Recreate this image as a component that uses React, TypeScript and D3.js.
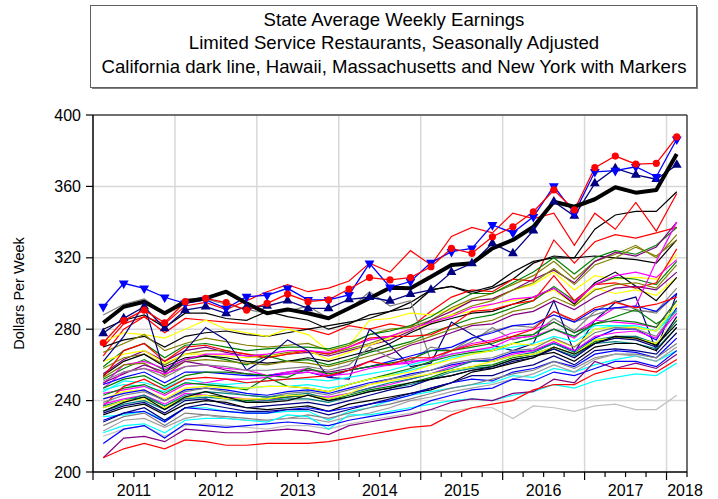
import React from "react";
import * as d3 from "d3";

const quarters = d3.range(29); // 2011Q1 .. 2018Q1
const yearLabels = ["2011", "2012", "2013", "2014", "2015", "2016", "2017", "2018"];
const yTicks = [200, 240, 280, 320, 360, 400];
const titleLines = [
  "State Average Weekly Earnings",
  "Limited Service Restaurants, Seasonally Adjusted",
  "California dark line, Hawaii, Massachusetts and New York with Markers",
];

// Highlighted series
const california = [283.6, 292.6, 295.4, 288.9, 295.4, 297.3, 301, 294.5, 288.9, 291.1, 288.9, 286.1, 291.7, 297.3, 303.2, 302.9, 309.4, 316, 316.9, 325.3, 330, 337.4, 351.4, 348.6, 352.8, 359.5, 356.5, 358, 378.1];
const hawaii = [272.4, 284.8, 290.7, 283.6, 295.4, 297.3, 294.9, 290.7, 294.5, 299.7, 295.4, 296.4, 302.5, 308.9, 307.6, 308.9, 315, 325.3, 322.5, 331.8, 337.4, 345.8, 358, 346.8, 370.5, 377, 372.5, 372.9, 387.8];
const massachusetts = [292.6, 305.7, 302.9, 297.9, 294.5, 296.4, 291.7, 298.2, 299, 302.9, 296.4, 296.4, 299.2, 316.9, 303.5, 306.7, 317.3, 323.4, 325.3, 338.4, 334, 343, 360.2, 344.9, 368.2, 368.8, 371, 365.4, 386.4];
const newYork = [277.7, 286.1, 292.6, 280.5, 290.7, 292.6, 288.9, 292.6, 293, 296, 291.7, 291.7, 296.7, 297.9, 295.8, 299.7, 302, 311.9, 316.9, 328.1, 322.5, 335.2, 351.4, 343.4, 361.7, 370.1, 366.4, 364, 372];

// Other states (thin lines)
const s01 = [280, 285, 288, 281, 289, 289, 286, 285, 290, 287, 285, 280, 283, 288, 290, 292, 302, 304, 300, 303, 308, 317, 321, 320, 336, 344, 346, 346, 357];
const s02 = [270, 283, 287, 283, 293, 295, 291, 296, 301, 305, 301, 303, 307, 317, 312, 324, 316, 332, 337, 334, 345, 342, 345, 327, 345, 336, 351, 335, 356];
const s03 = [265, 280, 287, 278, 286, 285, 284, 283, 282, 281, 280, 277, 282, 280, 283, 281, 290, 298, 302, 301, 308, 307, 330, 317, 329, 333, 331, 334, 337];
const s04 = [270, 274, 276, 270, 276, 278, 279, 277, 276, 278, 280, 282, 284, 286, 290, 295, 302, 304, 301, 304, 312, 318, 320, 320, 321, 320, 319, 317, 330];
const s05 = [288, 294, 297, 289, 297, 297, 294, 291, 289, 290, 293, 286, 291, 301, 293, 296, 262, 268, 273, 281, 274, 277, 286, 279, 290, 296, 291, 289, 300];
const s06 = [273, 278, 277, 275, 280, 285, 280, 278, 276, 280, 277, 268, 271, 285, 286, 289, 288, 291, 296, 297, 302, 305, 312, 302, 310, 308, 309, 308, 322];
const s07 = [267, 272, 277, 268, 272, 275, 273, 271, 270, 271, 272, 268, 271, 277, 280, 281, 285, 292, 297, 300, 305, 310, 318, 308, 318, 322, 327, 320, 333];
const s08 = [259, 268, 272, 264, 271, 272, 270, 268, 269, 270, 270, 269, 272, 277, 279, 282, 287, 294, 300, 300, 306, 312, 320, 311, 320, 324, 322, 327, 337];
const s09 = [255, 263, 268, 262, 268, 270, 267, 265, 264, 266, 267, 265, 268, 271, 274, 279, 285, 290, 296, 297, 302, 308, 313, 306, 318, 323, 321, 326, 340];
const s10 = [258, 264, 266, 260, 266, 268, 268, 266, 265, 267, 268, 266, 269, 272, 276, 280, 284, 288, 293, 296, 302, 306, 314, 305, 316, 320, 326, 321, 330];
const s11 = [262, 266, 268, 261, 266, 266, 265, 264, 265, 266, 268, 263, 267, 271, 275, 280, 283, 288, 290, 294, 296, 298, 302, 294, 303, 300, 302, 299, 309];
const s12 = [252, 258, 263, 257, 263, 265, 263, 260, 265, 262, 263, 260, 263, 267, 270, 273, 278, 282, 286, 288, 292, 296, 304, 296, 305, 309, 308, 305, 318];
const s13 = [254, 262, 266, 259, 264, 265, 264, 262, 261, 262, 264, 262, 265, 268, 272, 278, 283, 286, 289, 290, 294, 298, 303, 294, 306, 312, 304, 296, 309];
const s14 = [253, 268, 272, 262, 270, 271, 268, 266, 264, 266, 268, 266, 270, 275, 276, 276, 277, 282, 290, 291, 294, 296, 310, 296, 305, 306, 303, 306, 325];
const s15 = [249, 260, 262, 258, 263, 266, 266, 265, 266, 268, 268, 267, 270, 274, 276, 280, 284, 287, 292, 294, 297, 298, 303, 295, 305, 310, 312, 309, 319];
const s16 = [262, 276, 294, 255, 268, 281, 274, 257, 264, 274, 268, 253, 252, 280, 271, 259, 261, 284, 277, 271, 268, 272, 296, 267, 285, 295, 298, 268, 300];
const s17 = [253, 260, 261, 254, 262, 263, 262, 261, 260, 262, 261, 259, 262, 265, 268, 272, 276, 280, 283, 285, 290, 292, 298, 293, 302, 305, 306, 303, 316];
const s18 = [250, 255, 260, 256, 262, 260, 257, 255, 254, 256, 257, 256, 258, 262, 266, 271, 274, 278, 282, 283, 288, 290, 296, 291, 298, 303, 304, 302, 312];
const s19 = [247, 256, 258, 255, 259, 260, 258, 257, 254, 256, 258, 254, 257, 259, 260, 261, 264, 268, 272, 274, 278, 280, 284, 278, 285, 292, 293, 318, 340];
const s20 = [251, 256, 258, 253, 259, 260, 259, 257, 257, 258, 259, 257, 260, 270, 264, 262, 270, 268, 275, 279, 282, 281, 290, 284, 288, 292, 290, 290, 303];
const s21 = [249, 253, 256, 250, 256, 256, 255, 254, 254, 255, 256, 253, 257, 259, 262, 265, 268, 270, 275, 278, 282, 283, 288, 284, 291, 292, 293, 290, 300];
const s22 = [247, 252, 254, 248, 254, 256, 256, 255, 254, 253, 258, 255, 257, 259, 261, 263, 268, 268, 270, 272, 276, 277, 284, 278, 283, 287, 291, 283, 290];
const s23 = [245, 251, 250, 247, 252, 250, 249, 250, 251, 252, 252, 251, 253, 255, 257, 260, 263, 266, 268, 269, 272, 275, 280, 276, 282, 282, 282, 279, 290];
const s24 = [246, 249, 248, 245, 250, 249, 248, 247, 248, 248, 249, 247, 249, 252, 254, 257, 260, 264, 266, 268, 270, 272, 276, 273, 280, 282, 281, 279, 292];
const s25 = [244, 246, 248, 243, 249, 250, 252, 252, 253, 255, 256, 254, 255, 258, 260, 262, 263, 266, 268, 270, 275, 276, 280, 275, 285, 284, 283, 281, 296];
const s26 = [243, 247, 249, 244, 250, 249, 248, 246, 253, 248, 247, 245, 249, 252, 255, 258, 262, 265, 267, 268, 272, 275, 280, 276, 283, 285, 284, 281, 296];
const s27 = [237, 248, 252, 246, 252, 253, 252, 250, 251, 252, 253, 254, 257, 262, 260, 264, 264, 268, 271, 273, 276, 280, 290, 285, 292, 295, 292, 294, 298];
const s28 = [241, 245, 246, 241, 247, 248, 247, 247, 248, 248, 247, 245, 249, 252, 254, 256, 260, 263, 266, 268, 272, 271, 274, 270, 280, 281, 281, 279, 294];
const s29 = [241, 244, 246, 240, 246, 247, 246, 244, 243, 245, 246, 244, 247, 250, 252, 255, 257, 260, 262, 263, 267, 268, 272, 268, 275, 280, 280, 274, 292];
const s30 = [239, 243, 245, 240, 245, 247, 245, 243, 242, 244, 245, 243, 246, 249, 252, 254, 257, 261, 263, 264, 268, 269, 275, 270, 278, 281, 280, 276, 291];
const s31 = [238, 241, 243, 238, 244, 243, 242, 241, 240, 242, 243, 242, 244, 247, 249, 252, 255, 259, 262, 262, 266, 268, 273, 268, 276, 278, 279, 275, 289];
const s32 = [236, 240, 242, 237, 242, 243, 242, 240, 241, 242, 243, 240, 243, 246, 248, 250, 253, 257, 259, 260, 264, 266, 270, 266, 273, 275, 276, 271, 285];
const s33 = [234, 238, 240, 235, 241, 242, 241, 239, 240, 241, 241, 239, 242, 245, 247, 249, 252, 256, 258, 259, 263, 265, 269, 265, 272, 273, 272, 269, 281];
const s34 = [237, 240, 243, 237, 243, 245, 244, 243, 242, 243, 244, 241, 244, 247, 250, 252, 255, 258, 262, 262, 265, 267, 272, 267, 274, 276, 276, 272, 285];
const s35 = [236, 240, 241, 236, 242, 243, 241, 241, 241, 243, 243, 241, 244, 249, 251, 253, 255, 257, 259, 262, 265, 266, 270, 266, 274, 275, 275, 272, 286];
const s36 = [233, 237, 239, 233, 240, 241, 238, 236, 237, 238, 239, 237, 240, 243, 246, 248, 252, 254, 257, 258, 262, 264, 269, 264, 272, 275, 274, 270, 287];
const s37 = [232, 236, 238, 232, 238, 240, 239, 236, 235, 236, 237, 234, 238, 240, 242, 244, 246, 250, 256, 258, 261, 264, 270, 266, 272, 276, 275, 271, 283];
const s38 = [234, 239, 242, 235, 242, 245, 242, 239, 239, 240, 243, 240, 242, 245, 247, 250, 252, 254, 257, 259, 263, 265, 267, 262, 270, 272, 272, 268, 281];
const s39 = [231, 232, 234, 229, 236, 236, 234, 233, 233, 234, 234, 229, 234, 236, 240, 243, 245, 247, 249, 250, 254, 253, 258, 256, 260, 263, 265, 262, 268];
const s40 = [229, 233, 234, 228, 236, 235, 234, 233, 233, 235, 236, 234, 236, 238, 240, 243, 247, 250, 252, 251, 256, 258, 262, 259, 266, 268, 267, 264, 275];
const s41 = [228, 233, 236, 229, 236, 238, 236, 234, 234, 235, 235, 232, 235, 238, 241, 244, 247, 250, 254, 254, 258, 260, 265, 260, 268, 269, 268, 266, 278];
const s42 = [226, 231, 233, 226, 233, 232, 231, 230, 229, 230, 232, 230, 233, 236, 238, 241, 244, 247, 249, 252, 255, 257, 262, 258, 264, 266, 266, 264, 272];
const s43 = [223, 229, 230, 225, 230, 232, 230, 229, 229, 230, 230, 228, 231, 233, 236, 240, 242, 245, 247, 249, 252, 255, 260, 256, 263, 266, 265, 262, 270];
const s44 = [220, 224, 226, 220, 226, 227, 226, 225, 224, 226, 226, 224, 227, 229, 231, 233, 235, 234, 236, 236, 230, 237, 236, 234, 237, 238, 235, 235, 243];
const s45 = [222, 226, 227, 222, 229, 230, 230, 229, 228, 232, 231, 224, 232, 232, 234, 236, 238, 240, 241, 240, 243, 245, 249, 247, 251, 253, 255, 254, 261];
const s46 = [216, 224, 226, 219, 227, 226, 225, 226, 227, 228, 227, 226, 229, 231, 233, 235, 240, 243, 246, 247, 252, 251, 256, 254, 258, 262, 262, 259, 268];
const s47 = [208, 219, 220, 217, 224, 223, 222, 222, 223, 224, 223, 221, 226, 228, 230, 232, 235, 239, 241, 240, 244, 245, 252, 250, 262, 258, 261, 258, 266];
const s48 = [208, 213, 216, 213, 218, 217, 215, 215, 216, 216, 216, 217, 219, 221, 223, 225, 226, 232, 236, 238, 240, 246, 249, 249, 255, 258, 258, 256, 263];

const otherSeries = [s01, s02, s03, s04, s05, s06, s07, s08, s09, s10, s11, s12, s13, s14, s15, s16, s17, s18, s19, s20, s21, s22, s23, s24, s25, s26, s27, s28, s29, s30, s31, s32, s33, s34, s35, s36, s37, s38, s39, s40, s41, s42, s43, s44, s45, s46, s47, s48];
const otherColors = [
  "#000000", "#FF0000", "#FF0000", "#000000", "#808080", "#FFFF00", "#808000", "#008000",
  "#800080", "#808000", "#FFFF00", "#008000", "#000000", "#FF0000", "#FF00FF", "#000080",
  "#808000", "#800080", "#FF00FF", "#808080", "#0000FF", "#008000", "#00FFFF", "#00FFFF",
  "#FF00FF", "#008000", "#FF0000", "#FFFF00", "#0000FF", "#808080", "#FF00FF", "#008000",
  "#008080", "#008080", "#FFFF00", "#000080", "#000000", "#000000", "#00FFFF", "#0000FF",
  "#000080", "#808080", "#A0A0A0", "#C0C0C0", "#00FFFF", "#0000FF", "#800080", "#FF0000",
];

const W = 718;
const H = 499;
const L = 93, R = 687, T = 115, B = 472;
const FONT = "'Liberation Sans', Arial, sans-serif";

export default function App() {
  const x = d3.scaleLinear().domain([0, 29]).range([L, R]);
  const y = d3.scaleLinear().domain([200, 400]).range([B, T]);
  const line = d3.line<number>().x((_, i) => x(quarters[i] + 0.5)).y((d) => y(d));
  const tri = d3.symbol().type(d3.symbolTriangle).size(42);
  const yearStarts = d3.range(8).map((k) => k * 4);

  return (
    <svg width={W} height={H} style={{ position: "absolute", left: 0, top: 0, background: "#fff" }} fontFamily={FONT}>
      <rect x={0} y={0} width={W} height={H} fill="#fff" />
      {/* title box */}
      <rect x={92} y={7} width={606} height={82} fill="#808080" />
      <rect x={90.5} y={5.5} width={606} height={82} fill="#fff" stroke="#606060" strokeWidth={1} />
      {titleLines.map((t, i) => (
        <text key={i} x={394} y={25.5 + i * 23.5} textAnchor="middle" fontSize={18.6} fill="#000">{t}</text>
      ))}
      {/* gridlines */}
      {yTicks.filter((v) => v > 200 && v < 400).map((v) => (
        <line key={v} x1={L} x2={R} y1={y(v)} y2={y(v)} stroke="#D8D8D8" strokeWidth={1.5} />
      ))}
      {yearStarts.filter((q) => q > 0).map((q) => (
        <line key={q} x1={x(q)} x2={x(q)} y1={T} y2={B} stroke="#D8D8D8" strokeWidth={1.5} />
      ))}
      {/* other series */}
      {otherSeries.map((s, k) => (
        <path key={k} d={line(s) || ""} fill="none" stroke={otherColors[k]} strokeWidth={1.2} />
      ))}
      {/* highlighted */}
      <path d={line(newYork) || ""} fill="none" stroke="#000080" strokeWidth={1.3} />
      <path d={line(massachusetts) || ""} fill="none" stroke="#0000FF" strokeWidth={1.3} />
      <path d={line(hawaii) || ""} fill="none" stroke="#FF0000" strokeWidth={1.3} />
      <path d={line(california) || ""} fill="none" stroke="#000000" strokeWidth={4} strokeLinejoin="round" />
      {newYork.map((v, i) => (
        <path key={"ny" + i} d={tri() || ""} transform={`translate(${x(i + 0.5)},${y(v)})`} fill="#000080" />
      ))}
      {massachusetts.map((v, i) => (
        <path key={"ma" + i} d={tri() || ""} transform={`translate(${x(i + 0.5)},${y(v)}) rotate(180)`} fill="#0000FF" />
      ))}
      {hawaii.map((v, i) => (
        <circle key={"hi" + i} cx={x(i + 0.5)} cy={y(v)} r={3.6} fill="#FF0000" />
      ))}
      {/* frame */}
      <line x1={L} x2={R} y1={T} y2={T} stroke="#404040" strokeWidth={1.5} />
      <line x1={R} x2={R} y1={T} y2={B} stroke="#404040" strokeWidth={1.5} />
      <line x1={L} x2={L} y1={T} y2={B} stroke="#000" strokeWidth={1.5} />
      <line x1={L} x2={R} y1={B} y2={B} stroke="#000" strokeWidth={1.5} />
      {/* y ticks */}
      {yTicks.map((v) => (
        <g key={v}>
          <line x1={L - 7} x2={L} y1={y(v)} y2={y(v)} stroke="#000" strokeWidth={1.2} />
          <text x={L - 12} y={y(v) + 5.5} textAnchor="end" fontSize={16} fill="#000">{v}</text>
        </g>
      ))}
      {/* x ticks */}
      {d3.range(30).map((q) => (
        <line key={q} x1={x(q)} x2={x(q)} y1={B} y2={B + (q % 4 === 0 ? 8 : 5)} stroke="#000" strokeWidth={1.2} />
      ))}
      {yearLabels.map((t, k) => {
        const cx = k < 7 ? x(k * 4 + 2) : 685;
        return (
          <text key={t} x={cx} y={496} textAnchor="middle" fontSize={16} fill="#000">{t}</text>
        );
      })}
      <text transform={`translate(24,${(T + B) / 2}) rotate(-90)`} textAnchor="middle" fontSize={14.5} fill="#000">Dollars Per Week</text>
    </svg>
  );
}
